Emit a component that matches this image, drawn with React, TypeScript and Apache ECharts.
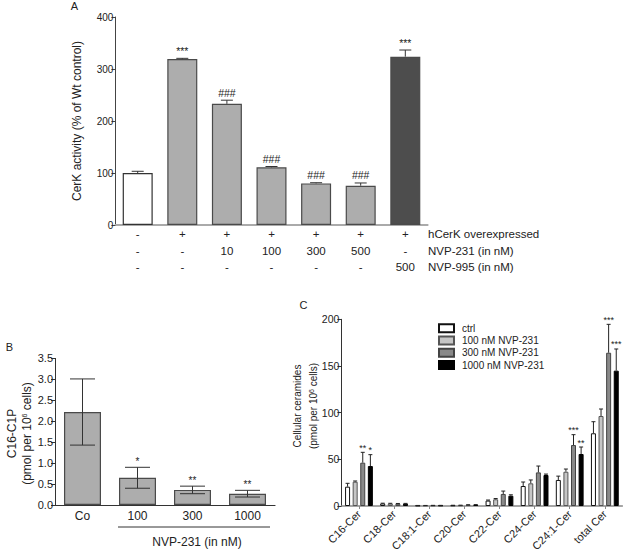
import React, { useEffect, useRef } from 'react';
import * as echarts from 'echarts';

const FONT = '"Liberation Sans", Arial, Helvetica, sans-serif';

// ---------- Panel A ----------
const conditionsA = ['c1', 'c2', 'c3', 'c4', 'c5', 'c6', 'c7'];
const rowHcerk = ['-', '+', '+', '+', '+', '+', '+'];
const rowNvp231 = ['-', '-', '10', '100', '300', '500', '-'];
const rowNvp995 = ['-', '-', '-', '-', '-', '-', '500'];
const rowTitles = ['hCerK overexpressed', 'NVP-231 (in nM)', 'NVP-995 (in nM)'];
const cerkActivity = [100, 319, 233, 111, 80, 75.6, 323.7];
const cerkErr = [3.3, 1.5, 7, 1.5, 1.3, 5.2, 12.8];
const cerkAnn = ['', '***', '###', '###', '###', '###', '***'];
const cerkTicks = [0, 100, 200, 300, 400];

// ---------- Panel B ----------
const catsB = ['Co', '100', '300', '1000'];
const c1p = [2.22, 0.65, 0.36, 0.27];
const c1pErr = [0.79, 0.25, 0.09, 0.08];
const c1pAnn = ['', '*', '**', '**'];

// ---------- Panel C ----------
const catsC = ['C16-Cer', 'C18-Cer', 'C18:1-Cer', 'C20-Cer', 'C22-Cer', 'C24-Cer', 'C24:1-Cer', 'total Cer'];
const seriesNamesC = ['ctrl', '100 nM NVP-231', '300 nM NVP-231', '1000 nM NVP-231'];
const ctrl = [20.7, 2.7, 0.5, 0.7, 5.8, 21.4, 27.9, 77.9];
const ctrlErr = [3.6, 0.3, 0.1, 0.1, 0.6, 4.3, 4.1, 12.4];
const nvp100 = [26.0, 2.6, 0.5, 0.8, 7.2, 24.3, 36.7, 96.4];
const nvp100Err = [0.8, 0.3, 0.1, 0.1, 0.8, 3.6, 2.9, 7.5];
const nvp300 = [46.4, 2.4, 0.6, 1.2, 12.9, 36.0, 65.3, 164.2];
const nvp300Err = [11.1, 0.3, 0.1, 0.2, 3.1, 6.8, 11.1, 30.4];
const nvp1000 = [42.8, 2.5, 0.6, 1.3, 11.0, 33.2, 55.7, 145.0];
const nvp1000Err = [12.2, 0.3, 0.1, 0.2, 1.0, 1.0, 7.5, 23.2];
const ann300 = ['**', '', '', '', '', '', '***', '***'];
const ann1000 = ['*', '', '', '', '', '', '**', '***'];

const fillA = ['#ffffff', '#adadad', '#adadad', '#adadad', '#adadad', '#adadad', '#4d4d4d'];
const fillC = ['#ffffff', '#c6c6c6', '#898989', '#000000'];
const borderC = ['#111111', '#555555', '#444444', '#000000'];

function errorBars(xi: number, yi: number, values: number[], errs: number[], anns: string[], o: any) {
  return {
    type: 'custom',
    xAxisIndex: xi,
    yAxisIndex: yi,
    z: 5,
    silent: true,
    encode: { x: 0, y: 1 },
    data: values.map((v, i) => [i, v, errs[i]]),
    renderItem: (params: any, api: any) => {
      const i = api.value(0);
      const v = api.value(1);
      const e = api.value(2);
      const top = api.coord([i, v + e]);
      const base = api.coord([i, o.both ? v - e : v]);
      const x = top[0] + (o.offset || 0);
      const ty = top[1];
      const by = base[1];
      const st = { stroke: o.color || '#333', lineWidth: 1 };
      const children: any[] = [
        { type: 'line', shape: { x1: x, y1: by, x2: x, y2: ty }, style: st },
        { type: 'line', shape: { x1: x - o.cap, y1: ty, x2: x + o.cap, y2: ty }, style: st },
      ];
      if (o.both) {
        children.push({ type: 'line', shape: { x1: x - o.cap, y1: by, x2: x + o.cap, y2: by }, style: st });
      }
      const ann = anns[params.dataIndex];
      if (ann) {
        children.push({
          type: 'text',
          x: x,
          y: ty - o.annGap,
          style: { text: ann, align: 'center', verticalAlign: 'bottom', fontSize: o.annSize, fontFamily: FONT, fill: '#222' },
        });
      }
      return { type: 'group', children };
    },
  };
}

function rotText(x: number, y: number, text: string, size: number, rich?: any) {
  return {
    type: 'text',
    x,
    y,
    rotation: Math.PI / 2,
    style: { text, align: 'center', verticalAlign: 'middle', fontSize: size, fontFamily: FONT, fill: '#222', rich },
  };
}

export default function App() {
  const ref = useRef<HTMLDivElement>(null);
  useEffect(() => {
    if (!ref.current) return;
    const chart = echarts.init(ref.current, undefined, { renderer: 'svg' });
    const supRich = { sup: { fontSize: 7, verticalAlign: 'top', fontFamily: FONT, fill: '#222' } };
    const cSeries: any[] = [];
    const cVals = [ctrl, nvp100, nvp300, nvp1000];
    const cErrs = [ctrlErr, nvp100Err, nvp300Err, nvp1000Err];
    const cAnns = [catsC.map(() => ''), catsC.map(() => ''), ann300, ann1000];
    const offsets = [-11.4, -3.8, 3.8, 11.4];
    cVals.forEach((vals, k) => {
      cSeries.push({
        type: 'bar',
        name: seriesNamesC[k],
        xAxisIndex: 2,
        yAxisIndex: 2,
        barWidth: 5,
        barGap: '52%',
        data: vals,
        itemStyle: { color: fillC[k], borderColor: borderC[k], borderWidth: 1 },
      });
    });
    cVals.forEach((vals, k) => {
      cSeries.push(
        errorBars(2, 2, vals, cErrs[k], cAnns[k], { cap: 2, offset: offsets[k], annGap: 0, annSize: 9, color: '#222' })
      );
    });

    const option: any = {
      animation: false,
      backgroundColor: '#ffffff',
      textStyle: { fontFamily: FONT },
      legend: {
        data: seriesNamesC,
        orient: 'vertical',
        left: 438,
        top: 322,
        padding: 0,
        itemWidth: 15,
        itemHeight: 8,
        itemGap: 0,
        icon: 'rect',
        selectedMode: false,
        textStyle: { fontSize: 10, lineHeight: 12.3, color: '#222', fontFamily: FONT, padding: [0, 0, 0, 3] },
      },
      grid: [
        { left: 115.4, top: 17, width: 312.2, height: 208 },
        { left: 55, top: 358.4, width: 220, height: 146.6 },
        { left: 341.4, top: 319.3, width: 281, height: 186.7 },
      ],
      xAxis: [
        {
          type: 'category',
          gridIndex: 0,
          data: conditionsA,
          axisLine: { lineStyle: { color: '#aaaaaa', width: 2 } },
          axisTick: { show: false },
          axisLabel: {
            margin: 1,
            fontSize: 11.5,
            lineHeight: 16.5,
            color: '#222',
            formatter: (_v: string, i: number) => `${rowHcerk[i]}\n${rowNvp231[i]}\n${rowNvp995[i]}`,
          },
        },
        {
          type: 'category',
          gridIndex: 1,
          data: catsB,
          axisLine: { lineStyle: { color: '#333333', width: 1.2 } },
          axisTick: { show: false },
          axisLabel: { margin: 5, fontSize: 12, color: '#222' },
        },
        {
          type: 'category',
          gridIndex: 2,
          data: catsC,
          axisLine: { lineStyle: { color: '#888888', width: 1.5 } },
          axisTick: { show: true, alignWithLabel: true, length: 3, lineStyle: { color: '#888888' } },
          axisLabel: { margin: 6, fontSize: 11, rotate: 45, color: '#222', interval: 0 },
        },
      ],
      yAxis: [
        {
          type: 'value',
          gridIndex: 0,
          min: cerkTicks[0],
          max: cerkTicks[cerkTicks.length - 1],
          interval: 100,
          axisLine: { show: true, lineStyle: { color: '#444444' } },
          axisTick: { show: true, length: 4, lineStyle: { color: '#444444' } },
          axisLabel: { fontSize: 10, color: '#222', margin: 2 },
          splitLine: { show: false },
        },
        {
          type: 'value',
          gridIndex: 1,
          min: 0,
          max: 3.5,
          interval: 0.5,
          axisLine: { show: true, lineStyle: { color: '#333333' } },
          axisTick: { show: true, length: 4, lineStyle: { color: '#333333' } },
          axisLabel: { fontSize: 11, color: '#222', margin: 2, formatter: (v: number) => v.toFixed(1) },
          splitLine: { show: false },
        },
        {
          type: 'value',
          gridIndex: 2,
          min: 0,
          max: 200,
          interval: 50,
          axisLine: { show: true, lineStyle: { color: '#333333' } },
          axisTick: { show: true, length: 4, lineStyle: { color: '#333333' } },
          axisLabel: { fontSize: 10.5, color: '#222', margin: 2 },
          splitLine: { show: false },
        },
      ],
      series: [
        {
          type: 'bar',
          name: 'CerK activity',
          xAxisIndex: 0,
          yAxisIndex: 0,
          barWidth: 30,
          data: cerkActivity.map((v, i) => ({
            value: v,
            itemStyle: { color: fillA[i], borderColor: i === 0 ? '#333' : '#4a4a4a', borderWidth: 1.2 },
          })),
        },
        errorBars(0, 0, cerkActivity, cerkErr, cerkAnn, { cap: 6, annGap: 2, annSize: 10.5, color: '#333' }),
        {
          type: 'bar',
          name: 'C16-C1P',
          xAxisIndex: 1,
          yAxisIndex: 1,
          barWidth: 37,
          data: c1p,
          itemStyle: { color: '#adadad', borderColor: '#4a4a4a', borderWidth: 1.2 },
        },
        errorBars(1, 1, c1p, c1pErr, c1pAnn, { cap: 12.5, both: true, annGap: 1, annSize: 10, color: '#333' }),
        ...cSeries,
      ],
      graphic: [
        { type: 'text', x: 74.5, y: 6, style: { text: 'A', align: 'center', verticalAlign: 'middle', fontSize: 11, fontFamily: FONT, fill: '#222' } },
        { type: 'text', x: 9.5, y: 347, style: { text: 'B', align: 'center', verticalAlign: 'middle', fontSize: 11, fontFamily: FONT, fill: '#222' } },
        { type: 'text', x: 303.5, y: 305, style: { text: 'C', align: 'center', verticalAlign: 'middle', fontSize: 11, fontFamily: FONT, fill: '#222' } },
        rotText(77, 121, 'CerK activity (% of Wt control)', 12),
        rotText(12, 433.5, 'C16-C1P', 12),
        rotText(26.5, 433.5, '(pmol per 10{sup|6} cells)', 12, supRich),
        rotText(297, 406, 'Cellular ceramides', 10),
        rotText(313, 406, '(pmol per 10{sup|6} cells)', 10, supRich),
        ...rowTitles.map((t, k) => ({
          type: 'text',
          x: 428,
          y: 234 + k * 16.5,
          style: { text: t, align: 'left', verticalAlign: 'middle', fontSize: 11.5, fontFamily: FONT, fill: '#222' },
        })),
        { type: 'line', shape: { x1: 118, y1: 527, x2: 270, y2: 527 }, style: { stroke: '#333', lineWidth: 1 } },
        { type: 'text', x: 197, y: 542, style: { text: 'NVP-231 (in nM)', align: 'center', verticalAlign: 'middle', fontSize: 12, fontFamily: FONT, fill: '#222' } },
      ],
    };
    chart.setOption(option);
    return () => chart.dispose();
  }, []);
  return <div ref={ref} style={{ position: 'fixed', left: 0, top: 0, width: 626, height: 554, background: '#fff' }} />;
}
